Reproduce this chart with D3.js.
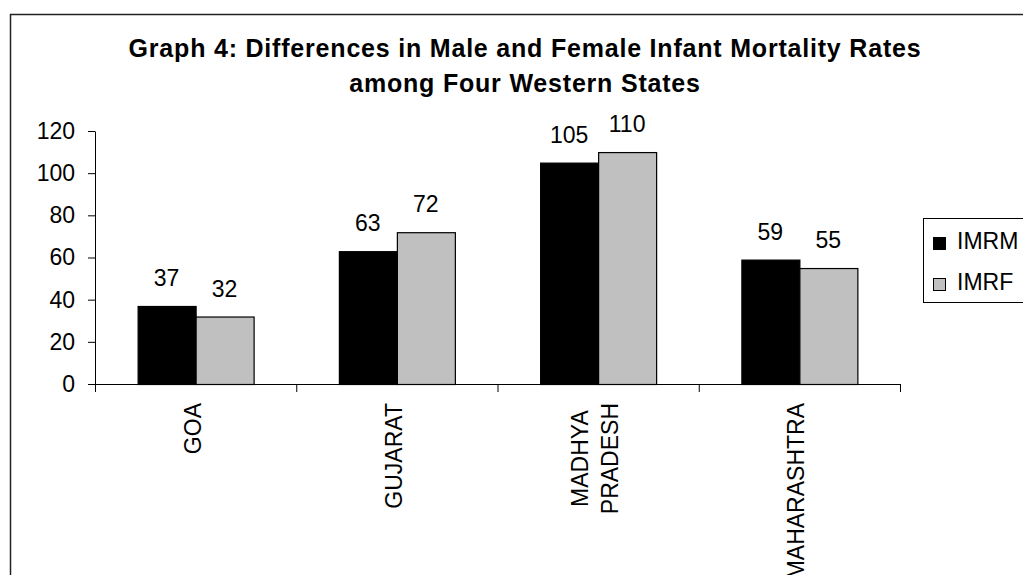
<!DOCTYPE html>
<html>
<head>
<meta charset="utf-8">
<script src="https://cdn.jsdelivr.net/npm/d3@7"></script>
<style>
  body { margin: 0; background: #fff; }
  text { font-family: "Liberation Sans", Arial, sans-serif; fill: #000; }
</style>
</head>
<body>
<div id="chart"></div>
<script>
// Data
const states = ["GOA", "GUJARAT", "MADHYA PRADESH", "MAHARASHTRA"];
const stateLines = [["GOA"], ["GUJARAT"], ["MADHYA", "PRADESH"], ["MAHARASHTRA"]];
const series = ["IMRM", "IMRF"];
const imrm = [37, 63, 105, 59];
const imrf = [32, 72, 110, 55];
const yTicks = [0, 20, 40, 60, 80, 100, 120];
const colors = ["#000000", "#c0c0c0"];
const titleLines = ["Graph 4: Differences in Male and Female Infant Mortality Rates",
                    "among Four Western States"];

const width = 1023, height = 575;
const plot = { left: 95, right: 900, top: 131, bottom: 384 };

const svg = d3.select("#chart").append("svg")
    .attr("width", width)
    .attr("height", height);

// Outer frame (runs off the right and bottom edges)
svg.append("rect")
    .attr("x", 10.5).attr("y", 14.5)
    .attr("width", 1100).attr("height", 700)
    .attr("fill", "none")
    .attr("stroke", "#222")
    .attr("stroke-width", 1.5);

// Scales
const x = d3.scaleBand()
    .domain(states)
    .range([plot.left, plot.right]);

const xSub = d3.scaleBand()
    .domain(series)
    .range([0, x.bandwidth()])
    .paddingOuter(0.735);

const y = d3.scaleLinear()
    .domain([0, 120])
    .range([plot.bottom, plot.top]);

// Title
const titleG = svg.append("g")
    .attr("text-anchor", "middle")
    .style("font-weight", "bold")
    .style("font-size", "25px")
    .style("letter-spacing", "0.8px");
titleG.selectAll("text")
  .data(titleLines)
  .enter().append("text")
    .attr("x", 525)
    .attr("y", (d, i) => 57 + i * 35)
    .text(d => d);

// Y axis
const yAxis = svg.append("g")
    .attr("transform", `translate(${plot.left},0)`)
    .call(d3.axisLeft(y).tickValues(yTicks).tickSize(7).tickPadding(13).tickSizeOuter(0));
yAxis.select(".domain").attr("stroke", "#000");
yAxis.selectAll("line").attr("stroke", "#000");
yAxis.selectAll("text")
    .style("font-size", "23px")
    .attr("font-family", null);

// X axis line and ticks at band edges
svg.append("line")
    .attr("x1", plot.left).attr("x2", plot.right)
    .attr("y1", plot.bottom + 0.5).attr("y2", plot.bottom + 0.5)
    .attr("stroke", "#000");
svg.selectAll(".xtick")
  .data(states.concat(["end"]))
  .enter().append("line")
    .attr("class", "xtick")
    .attr("x1", (d, i) => plot.left + i * x.step() + 0.5)
    .attr("x2", (d, i) => plot.left + i * x.step() + 0.5)
    .attr("y1", plot.bottom)
    .attr("y2", plot.bottom + 8)
    .attr("stroke", "#000");

// Bars
const rows = states.map((s, i) => ({ state: s, values: [
  { key: "IMRM", value: imrm[i] },
  { key: "IMRF", value: imrf[i] }
]}));

const group = svg.selectAll(".state")
  .data(rows)
  .enter().append("g")
    .attr("class", "state")
    .attr("transform", d => `translate(${x(d.state)},0)`);

group.selectAll("rect")
  .data(d => d.values)
  .enter().append("rect")
    .attr("x", d => xSub(d.key) + 0.5)
    .attr("y", d => y(d.value) + 0.5)
    .attr("width", xSub.bandwidth())
    .attr("height", d => y(0) - y(d.value))
    .attr("fill", (d, i) => colors[i])
    .attr("stroke", "#000")
    .attr("stroke-width", 1.2);

group.selectAll(".val")
  .data(d => d.values)
  .enter().append("text")
    .attr("class", "val")
    .attr("text-anchor", "middle")
    .attr("x", d => xSub(d.key) + xSub.bandwidth() / 2)
    .attr("y", d => y(d.value) - 20)
    .style("font-size", "23px")
    .text(d => d.value);

// Category labels, rotated, anchored at the top
const labelTop = 403;
svg.selectAll(".cat")
  .data(stateLines)
  .enter().append("g")
    .attr("class", "cat")
    .each(function(lines, i) {
      const g = d3.select(this);
      const cx = x(states[i]) + x.bandwidth() / 2;
      const lh = 30;
      const texts = g.selectAll("text")
        .data(lines)
        .enter().append("text")
          .style("font-size", "23px")
          .attr("text-anchor", "middle")
          .text(d => d);
      const maxLen = d3.max(texts.nodes(), n => n.getComputedTextLength());
      const mid = labelTop + maxLen / 2;
      texts.attr("transform", (d, j) => {
        const off = (j - (lines.length - 1) / 2) * lh;
        return `translate(${cx + off + 5},${mid}) rotate(-90)`;
      });
    });

// Legend
const legend = svg.append("g");
legend.append("rect")
    .attr("x", 923.5).attr("y", 218.5)
    .attr("width", 200).attr("height", 84)
    .attr("fill", "#fff")
    .attr("stroke", "#000");
const item = legend.selectAll(".item")
  .data(series)
  .enter().append("g")
    .attr("class", "item")
    .attr("transform", (d, i) => `translate(933,${237 + i * 41})`);
item.append("rect")
    .attr("x", 0.5).attr("y", 0.5)
    .attr("width", 12).attr("height", 12)
    .attr("fill", (d, i) => colors[i])
    .attr("stroke", "#000");
item.append("text")
    .attr("x", 24)
    .attr("y", 12)
    .style("font-size", "23px")
    .text(d => d);
</script>
</body>
</html>
